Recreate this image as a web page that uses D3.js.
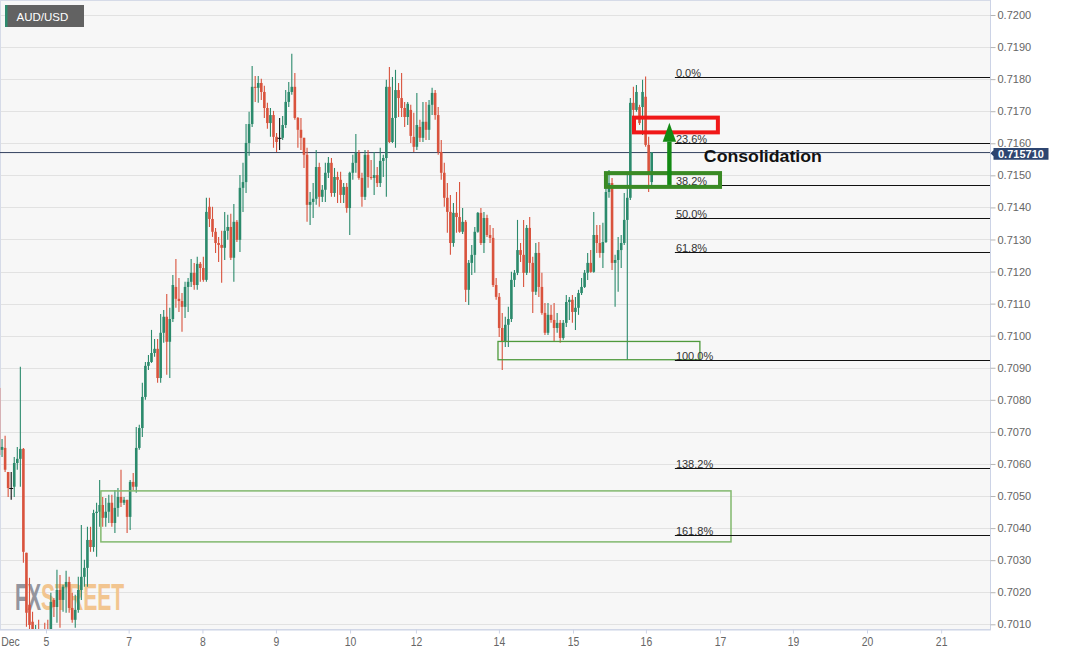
<!DOCTYPE html>
<html>
<head>
<meta charset="utf-8">
<script src="https://cdn.jsdelivr.net/npm/d3@7"></script>
<style>
  html, body { margin: 0; padding: 0; background: #fff; }
  svg { display: block; font-family: "Liberation Sans", Arial, sans-serif; }
</style>
</head>
<body>
<div id="chart"></div>
<script>
// AUD/USD hourly candles, Dec 2 -> Dec 16
const symbol = 'AUD/USD'

const openPrices = [
  0.70837, 0.70644, 0.70650, 0.70575, 0.70525, 0.70529, 0.70603, 0.70616, 0.70647, 0.70323,
  0.70161, 0.70108, 0.70052, 0.70083, 0.70036, 0.70058, 0.70052, 0.70014, 0.70176, 0.70154,
  0.70207, 0.70176, 0.70217, 0.70232, 0.70151, 0.70114, 0.70145, 0.70207, 0.70248, 0.70276,
  0.70363, 0.70341, 0.70447, 0.70451, 0.70472, 0.70432, 0.70451, 0.70479, 0.70416, 0.70463,
  0.70497, 0.70479, 0.70488, 0.70435, 0.70544, 0.70529, 0.70650, 0.70712, 0.70809, 0.70906,
  0.70918, 0.70946, 0.70959, 0.70868, 0.71009, 0.71059, 0.70981, 0.71052, 0.71152, 0.71115,
  0.71108, 0.71090, 0.71152, 0.71168, 0.71196, 0.71158, 0.71224, 0.71211, 0.71174, 0.71402,
  0.71364, 0.71324, 0.71289, 0.71283, 0.71274, 0.71327, 0.71339, 0.71243, 0.71355, 0.71299,
  0.71461, 0.71479, 0.71601, 0.71660, 0.71776, 0.71773, 0.71788, 0.71760, 0.71710, 0.71663,
  0.71688, 0.71620, 0.71617, 0.71617, 0.71657, 0.71729, 0.71760, 0.71776, 0.71679, 0.71642,
  0.71617, 0.71564, 0.71408, 0.71417, 0.71427, 0.71526, 0.71433, 0.71455, 0.71508, 0.71539,
  0.71445, 0.71495, 0.71486, 0.71439, 0.71464, 0.71398, 0.71508, 0.71539, 0.71570, 0.71492,
  0.71433, 0.71564, 0.71495, 0.71492, 0.71501, 0.71476, 0.71545, 0.71554, 0.71776, 0.71604,
  0.71679, 0.71766, 0.71741, 0.71710, 0.71682, 0.71704, 0.71620, 0.71589, 0.71651, 0.71617,
  0.71667, 0.71642, 0.71720, 0.71757, 0.71688, 0.71573, 0.71508, 0.71430, 0.71386, 0.71289,
  0.71383, 0.71370, 0.71324, 0.71355, 0.71143, 0.71227, 0.71252, 0.71324, 0.71383, 0.71289,
  0.71367, 0.71314, 0.71305, 0.71158, 0.71121, 0.71024, 0.70981, 0.71034, 0.71052, 0.71174,
  0.71196, 0.71267, 0.71252, 0.71196, 0.71336, 0.71227, 0.71137, 0.71258, 0.71152, 0.71071,
  0.71009, 0.71065, 0.71049, 0.71024, 0.71040, 0.70993, 0.71040, 0.71105, 0.71112, 0.71074,
  0.71087, 0.71133, 0.71152, 0.71196, 0.71227, 0.71199, 0.71314, 0.71289, 0.71258, 0.71292,
  0.71448, 0.71476, 0.71227, 0.71236, 0.71267, 0.71289, 0.71361, 0.71430, 0.71726, 0.71704,
  0.71713, 0.71713, 0.71745, 0.71595, 0.71479
]

const highPrices = [
  0.70847, 0.70678, 0.70688, 0.70575, 0.70575, 0.70622, 0.70653, 0.70903, 0.70650, 0.70323,
  0.70245, 0.70139, 0.70098, 0.70114, 0.70076, 0.70105, 0.70114, 0.70198, 0.70182, 0.70270,
  0.70254, 0.70223, 0.70267, 0.70248, 0.70198, 0.70192, 0.70248, 0.70410, 0.70301, 0.70404,
  0.70404, 0.70457, 0.70479, 0.70550, 0.70497, 0.70494, 0.70504, 0.70504, 0.70519, 0.70525,
  0.70582, 0.70497, 0.70488, 0.70550, 0.70572, 0.70715, 0.70722, 0.70853, 0.70918, 0.70940,
  0.71018, 0.70990, 0.70990, 0.71068, 0.71080, 0.71130, 0.71087, 0.71189, 0.71239, 0.71180,
  0.71133, 0.71168, 0.71180, 0.71239, 0.71227, 0.71246, 0.71230, 0.71246, 0.71430, 0.71430,
  0.71402, 0.71336, 0.71308, 0.71327, 0.71386, 0.71377, 0.71380, 0.71411, 0.71361, 0.71501,
  0.71539, 0.71660, 0.71698, 0.71841, 0.71810, 0.71810, 0.71801, 0.71779, 0.71726, 0.71710,
  0.71701, 0.71632, 0.71679, 0.71685, 0.71766, 0.71791, 0.71879, 0.71819, 0.71682, 0.71679,
  0.71617, 0.71586, 0.71448, 0.71476, 0.71579, 0.71539, 0.71470, 0.71539, 0.71557, 0.71554,
  0.71523, 0.71511, 0.71511, 0.71476, 0.71476, 0.71511, 0.71564, 0.71629, 0.71579, 0.71508,
  0.71579, 0.71579, 0.71548, 0.71573, 0.71526, 0.71586, 0.71564, 0.71798, 0.71838, 0.71807,
  0.71829, 0.71788, 0.71819, 0.71729, 0.71729, 0.71720, 0.71695, 0.71757, 0.71673, 0.71729,
  0.71729, 0.71735, 0.71773, 0.71766, 0.71713, 0.71610, 0.71539, 0.71476, 0.71439, 0.71414,
  0.71448, 0.71479, 0.71398, 0.71361, 0.71236, 0.71283, 0.71339, 0.71386, 0.71398, 0.71386,
  0.71377, 0.71345, 0.71336, 0.71180, 0.71133, 0.71071, 0.71059, 0.71090, 0.71199, 0.71205,
  0.71361, 0.71289, 0.71361, 0.71345, 0.71370, 0.71246, 0.71289, 0.71292, 0.71196, 0.71102,
  0.71102, 0.71096, 0.71102, 0.71071, 0.71049, 0.71049, 0.71127, 0.71121, 0.71127, 0.71121,
  0.71143, 0.71180, 0.71205, 0.71258, 0.71267, 0.71386, 0.71345, 0.71345, 0.71352, 0.71461,
  0.71517, 0.71492, 0.71252, 0.71308, 0.71314, 0.71445, 0.71508, 0.71741, 0.71776, 0.71782,
  0.71720, 0.71798, 0.71808, 0.71620, 0.71573
]

const lowPrices = [
  0.70622, 0.70622, 0.70575, 0.70497, 0.70488, 0.70497, 0.70582, 0.70529, 0.70292, 0.70092,
  0.70083, 0.70027, 0.70005, 0.69989, 0.70005, 0.69989, 0.69983, 0.70005, 0.70123, 0.70105,
  0.70089, 0.70139, 0.70136, 0.70136, 0.70105, 0.70089, 0.70136, 0.70176, 0.70217, 0.70217,
  0.70326, 0.70326, 0.70311, 0.70404, 0.70404, 0.70404, 0.70416, 0.70404, 0.70385, 0.70435,
  0.70466, 0.70472, 0.70385, 0.70394, 0.70519, 0.70510, 0.70644, 0.70684, 0.70800, 0.70893,
  0.70915, 0.70934, 0.70853, 0.70853, 0.70978, 0.70878, 0.70868, 0.71043, 0.71087, 0.71074,
  0.71012, 0.71055, 0.71074, 0.71152, 0.71143, 0.71143, 0.71168, 0.71168, 0.71168, 0.71339,
  0.71308, 0.71258, 0.71230, 0.71165, 0.71236, 0.71299, 0.71236, 0.71168, 0.71292, 0.71261,
  0.71386, 0.71445, 0.71561, 0.71651, 0.71729, 0.71726, 0.71735, 0.71679, 0.71645, 0.71620,
  0.71586, 0.71573, 0.71579, 0.71610, 0.71648, 0.71713, 0.71751, 0.71673, 0.71586, 0.71579,
  0.71523, 0.71355, 0.71345, 0.71367, 0.71408, 0.71402, 0.71417, 0.71417, 0.71492, 0.71433,
  0.71433, 0.71414, 0.71414, 0.71414, 0.71383, 0.71314, 0.71486, 0.71508, 0.71486, 0.71402,
  0.71423, 0.71461, 0.71486, 0.71439, 0.71464, 0.71464, 0.71495, 0.71433, 0.71601, 0.71601,
  0.71586, 0.71682, 0.71682, 0.71651, 0.71657, 0.71601, 0.71573, 0.71579, 0.71604, 0.71604,
  0.71610, 0.71610, 0.71688, 0.71673, 0.71564, 0.71486, 0.71402, 0.71321, 0.71252, 0.71277,
  0.71321, 0.71321, 0.71317, 0.71105, 0.71096, 0.71189, 0.71196, 0.71321, 0.71283, 0.71258,
  0.71308, 0.71289, 0.71152, 0.71112, 0.70996, 0.70893, 0.70965, 0.70965, 0.71043, 0.71152,
  0.71189, 0.71230, 0.71152, 0.71189, 0.71196, 0.71071, 0.71127, 0.71121, 0.71065, 0.71002,
  0.71002, 0.71040, 0.70981, 0.71009, 0.70978, 0.70987, 0.71027, 0.71049, 0.71040, 0.71018,
  0.71065, 0.71127, 0.71149, 0.71174, 0.71196, 0.71196, 0.71258, 0.71243, 0.71211, 0.71289,
  0.71430, 0.71205, 0.71090, 0.71137, 0.71211, 0.71283, 0.70925, 0.71423, 0.71679, 0.71698,
  0.71657, 0.71626, 0.71589, 0.71448, 0.71470
]

const closePrices = [
  0.70628, 0.70653, 0.70582, 0.70525, 0.70525, 0.70603, 0.70616, 0.70647, 0.70326, 0.70136,
  0.70098, 0.70052, 0.70083, 0.70036, 0.70058, 0.70020, 0.70014, 0.70170, 0.70154, 0.70207,
  0.70176, 0.70217, 0.70232, 0.70151, 0.70114, 0.70145, 0.70207, 0.70248, 0.70276, 0.70363,
  0.70341, 0.70447, 0.70451, 0.70472, 0.70432, 0.70451, 0.70479, 0.70416, 0.70463, 0.70497,
  0.70479, 0.70488, 0.70435, 0.70544, 0.70529, 0.70650, 0.70712, 0.70809, 0.70906, 0.70918,
  0.70946, 0.70959, 0.70868, 0.71009, 0.71059, 0.70981, 0.71052, 0.71158, 0.71115, 0.71108,
  0.71090, 0.71152, 0.71168, 0.71196, 0.71158, 0.71224, 0.71211, 0.71174, 0.71386, 0.71364,
  0.71324, 0.71289, 0.71283, 0.71274, 0.71327, 0.71339, 0.71243, 0.71355, 0.71299, 0.71461,
  0.71479, 0.71601, 0.71660, 0.71776, 0.71773, 0.71788, 0.71760, 0.71710, 0.71663, 0.71688,
  0.71620, 0.71604, 0.71617, 0.71657, 0.71729, 0.71760, 0.71776, 0.71679, 0.71642, 0.71617,
  0.71564, 0.71408, 0.71417, 0.71427, 0.71526, 0.71433, 0.71455, 0.71508, 0.71539, 0.71445,
  0.71495, 0.71486, 0.71439, 0.71464, 0.71398, 0.71508, 0.71539, 0.71570, 0.71492, 0.71433,
  0.71564, 0.71495, 0.71492, 0.71501, 0.71476, 0.71545, 0.71554, 0.71776, 0.71604, 0.71679,
  0.71766, 0.71741, 0.71710, 0.71682, 0.71723, 0.71623, 0.71589, 0.71657, 0.71617, 0.71667,
  0.71642, 0.71720, 0.71757, 0.71688, 0.71573, 0.71508, 0.71430, 0.71386, 0.71289, 0.71383,
  0.71370, 0.71324, 0.71355, 0.71143, 0.71227, 0.71252, 0.71324, 0.71383, 0.71289, 0.71367,
  0.71314, 0.71305, 0.71158, 0.71121, 0.71024, 0.70981, 0.71034, 0.71052, 0.71174, 0.71196,
  0.71267, 0.71252, 0.71196, 0.71336, 0.71227, 0.71137, 0.71258, 0.71152, 0.71071, 0.71009,
  0.71065, 0.71049, 0.71024, 0.71040, 0.70993, 0.71040, 0.71105, 0.71112, 0.71074, 0.71087,
  0.71133, 0.71152, 0.71196, 0.71227, 0.71199, 0.71314, 0.71289, 0.71258, 0.71292, 0.71448,
  0.71476, 0.71227, 0.71236, 0.71267, 0.71289, 0.71361, 0.71430, 0.71726, 0.71704, 0.71760,
  0.71663, 0.71760, 0.71595, 0.71501, 0.71571
]

const lastPrice = 0.71571

// x axis: labels and the candle slot they sit on
const dayLabels = ['Dec', '5', '7', '8', '9', '10', '12', '14', '15', '16', '17', '19', '20', '21']
const daySlots = [3.6, 15.4, 42.5, 66.7, 90.8, 115.1, 136.7, 163.9, 188.2, 212.1, 236.4, 260.3, 284.6, 308.9]

// fibonacci retracement of the Dec 15-16 swing
const fibHigh = 0.71808
const fibLow = 0.70925
const fibLevels = [0, 23.6, 38.2, 50, 61.8, 100, 138.2, 161.8]
const fibFromSlot = 221.6

// drawn boxes: [fromSlot, toSlot, topPrice, bottomPrice]
const supportBox = [33.4, 240, 0.70516, 0.70357]
const lowBox = [163.6, 229.8, 0.70982, 0.70925]
const fib382Box = [199, 236.4, 0.71507, 0.71464]
const fib236Box = [208.2, 235.7, 0.71680, 0.71634]

// arrow: slot, tail / head base / tip prices
const arrowSlot = 219.8
const arrowPrices = [0.71470, 0.71605, 0.71664]

const note = 'Consolidation'
const noteAt = [231.1, 0.71541]

function draw(id) {
  const width = 1067
  const height = 655
  const plotRight = 990
  const plotBottom = 630

  const svg = d3.select(`#${id}`)
    .append('svg')
    .attr('width', width)
    .attr('height', height)

  const x = d3.scaleLinear().domain([0, 325]).range([-1, 990.25])
  const y = d3.scaleLinear().domain([0.7010, 0.7200]).range([624.3, 15])
  const yTicks = y.ticks(20)

  svg.append('rect')
    .attr('x', 0.5).attr('y', 0.5)
    .attr('width', plotRight).attr('height', plotBottom - 1)
    .attr('fill', '#f7f7f7')
    .attr('stroke', '#d6dbe8')

  svg.append('g')
    .selectAll('line')
    .data(yTicks)
    .join('line')
    .attr('x1', 1)
    .attr('x2', plotRight)
    .attr('y1', d => Math.round(y(d)) + 0.5)
    .attr('y2', d => Math.round(y(d)) + 0.5)
    .attr('stroke', '#e2e2e2')

  // watermark, squeezed horizontally
  const mark = svg.append('g')
    .attr('font-weight', 'bold').attr('font-size', 37)
    .attr('font-family', '"Liberation Sans", Arial, sans-serif')
  mark.append('text')
    .attr('transform', 'translate(15,610) scale(0.55,1)')
    .attr('fill', '#94959e').text('FX')
  mark.append('text')
    .attr('transform', 'translate(41,610) scale(0.57,1)')
    .attr('fill', '#f2c590').text('STREET')

  svg.append('clipPath').attr('id', 'plot-clip')
    .append('rect').attr('x', 0).attr('y', 0).attr('width', plotRight).attr('height', plotBottom - 1)

  const plot = svg.append('g').attr('clip-path', 'url(#plot-clip)')

  // last price line
  plot.append('line')
    .attr('x1', 0).attr('x2', plotRight)
    .attr('y1', y(lastPrice)).attr('y2', y(lastPrice))
    .attr('stroke', '#34425f')
    .attr('stroke-width', 1)

  const candles = openPrices.map((o, i) => ({
    i, o, h: highPrices[i], l: lowPrices[i], c: closePrices[i]
  }))
  const colour = d => d.c > d.o ? '#2b8a6c' : d.c < d.o ? '#d9533d' : '#111'

  const g = plot.append('g')
    .selectAll('g')
    .data(candles)
    .join('g')

  g.append('line')
    .attr('x1', d => x(d.i)).attr('x2', d => x(d.i))
    .attr('y1', d => y(d.h)).attr('y2', d => y(d.l))
    .attr('stroke', colour)
    .attr('stroke-width', 1.1)

  g.append('rect')
    .attr('x', d => x(d.i) - (d.c === d.o ? 2 : 1.3))
    .attr('width', d => d.c === d.o ? 4 : 2.6)
    .attr('y', d => y(Math.max(d.o, d.c)))
    .attr('height', d => Math.max(1, y(Math.min(d.o, d.c)) - y(Math.max(d.o, d.c))))
    .attr('fill', colour)

  // boxes
  const box = (b, stroke, sw) => plot.append('rect')
    .attr('x', x(b[0])).attr('y', y(b[2]))
    .attr('width', x(b[1]) - x(b[0]))
    .attr('height', y(b[3]) - y(b[2]))
    .attr('fill', 'none')
    .attr('stroke', stroke)
    .attr('stroke-width', sw)

  box(supportBox, '#82b96e', 1.5)
  box(lowBox, '#4f9a3c', 1.3)

  // fibonacci lines
  const fibPrice = lvl => fibHigh - (fibHigh - fibLow) * lvl / 100
  const fib = plot.append('g')
  fib.selectAll('line')
    .data(fibLevels)
    .join('line')
    .attr('x1', x(fibFromSlot)).attr('x2', plotRight)
    .attr('y1', d => Math.round(y(fibPrice(d))) + 0.5)
    .attr('y2', d => Math.round(y(fibPrice(d))) + 0.5)
    .attr('stroke', '#111')
  fib.selectAll('text')
    .data(fibLevels)
    .join('text')
    .attr('x', x(fibFromSlot) + 1)
    .attr('y', d => Math.round(y(fibPrice(d))) - 0.5)
    .attr('font-size', 11)
    .attr('fill', '#333')
    .text(d => d3.format('.1f')(d) + '%')

  box(fib382Box, '#3a8a25', 4)
  box(fib236Box, '#f01818', 4)

  // arrow
  const ax = x(arrowSlot)
  plot.append('rect')
    .attr('x', ax - 2.2).attr('width', 4.4)
    .attr('y', y(arrowPrices[1])).attr('height', y(arrowPrices[0]) - y(arrowPrices[1]))
    .attr('fill', '#148a14')
  plot.append('path')
    .attr('d', `M${ax - 6.7},${y(arrowPrices[1])}L${ax + 6.7},${y(arrowPrices[1])}L${ax},${y(arrowPrices[2])}Z`)
    .attr('fill', '#148a14')

  plot.append('text')
    .attr('x', x(noteAt[0])).attr('y', y(noteAt[1]))
    .attr('font-size', 17).attr('font-weight', 'bold')
    .attr('textLength', 118).attr('lengthAdjust', 'spacingAndGlyphs')
    .attr('fill', '#111')
    .text(note)

  // symbol tag
  svg.append('rect').attr('x', 5).attr('y', 5).attr('width', 79).attr('height', 22).attr('fill', '#626262')
  svg.append('rect').attr('x', 5).attr('y', 5).attr('width', 2.5).attr('height', 22).attr('fill', '#2e8b6e')
  svg.append('text').attr('x', 16.5).attr('y', 20.5)
    .attr('font-size', 11.5).attr('fill', '#fff').text(symbol)

  // y axis
  svg.append('line')
    .attr('x1', plotRight + 0.5).attr('x2', plotRight + 0.5)
    .attr('y1', 0).attr('y2', plotBottom)
    .attr('stroke', '#ccd3e6')

  const yAxis = svg.append('g')
    .attr('transform', `translate(${plotRight + 0.5},0)`)
    .call(d3.axisRight(y).tickValues(yTicks).tickFormat(d3.format('.4f')).tickSize(5).tickPadding(2))
  yAxis.select('.domain').remove()
  yAxis.attr('font-family', null)
  yAxis.selectAll('line').attr('stroke', '#b5b5b5')
  yAxis.selectAll('text').attr('fill', '#666').attr('font-size', 11)

  // last price tag
  const ty = y(lastPrice)
  svg.append('path')
    .attr('d', `M${plotRight + 0.5},${ty + 0.7}L${plotRight + 3.5},${ty - 2.3}L${plotRight + 3.5},${ty - 4.5}` +
      `L${plotRight + 58.5},${ty - 4.5}L${plotRight + 58.5},${ty + 7.2}L${plotRight + 3.5},${ty + 7.2}` +
      `L${plotRight + 3.5},${ty + 3.7}Z`)
    .attr('fill', '#2d4570')
  svg.append('text')
    .attr('x', plotRight + 8).attr('y', ty + 5.3)
    .attr('font-size', 11).attr('font-weight', 'bold').attr('fill', '#fff')
    .text(d3.format('.6f')(lastPrice))

  // x axis
  const xAxis = svg.append('g')
    .attr('transform', `translate(0,${plotBottom - 0.5})`)
    .call(d3.axisBottom(x).tickValues(daySlots).tickFormat((d, i) => dayLabels[i]).tickSize(4).tickSizeOuter(0))
  xAxis.attr('font-family', null)
  xAxis.select('.domain').attr('stroke', '#ccd3e6')
  xAxis.selectAll('line').attr('stroke', '#ccd3e6')
  xAxis.select('.tick line').remove()
  xAxis.selectAll('text')
    .attr('fill', '#666')
    .attr('font-size', 13)
    .attr('transform', 'scale(0.8,1)')
}

draw('chart')
</script>
</body>
</html>
